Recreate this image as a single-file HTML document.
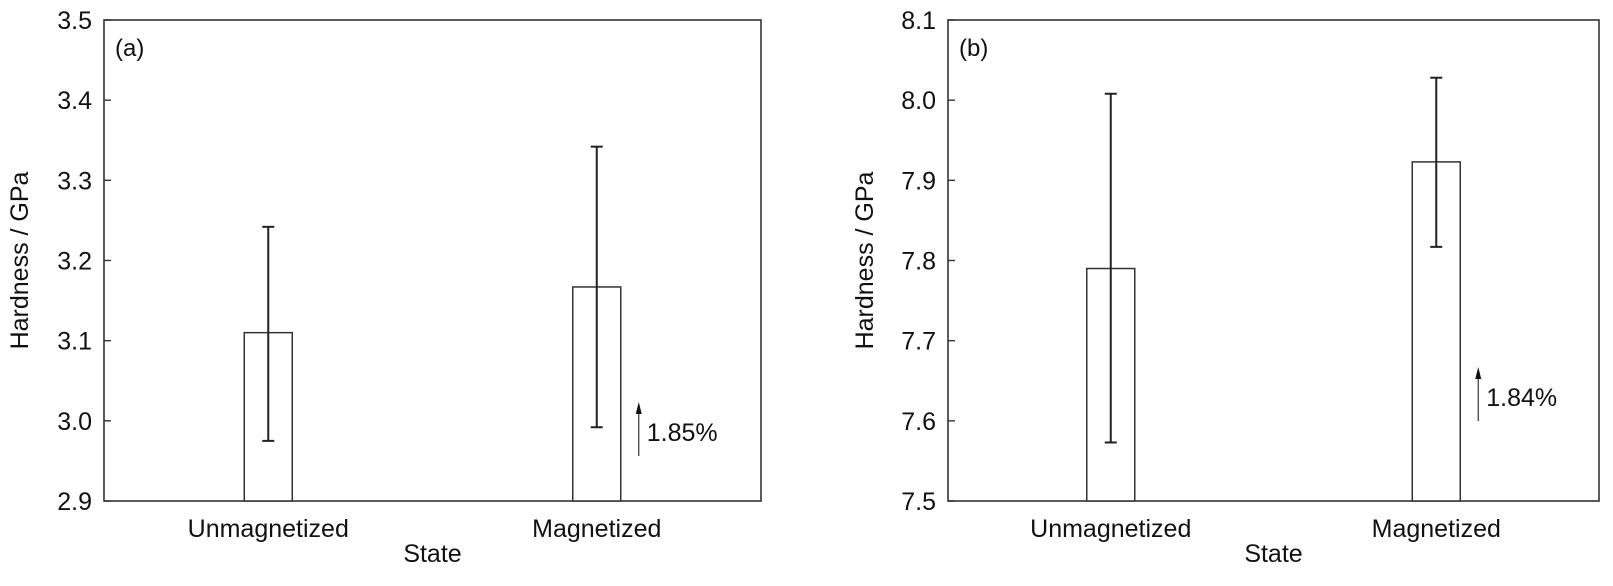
<!DOCTYPE html>
<html><head><meta charset="utf-8"><style>
html,body{margin:0;padding:0;background:#fff;}
svg{display:block;font-family:"Liberation Sans",Arial,sans-serif;}
</style></head><body>
<svg id="chart" width="1613" height="586" viewBox="0 0 1613 586" xmlns="http://www.w3.org/2000/svg"></svg>
<script>
const categories = ["Unmagnetized", "Magnetized"];
const valuesA = [3.110, 3.167];
const errLowA = [2.975, 2.992];
const errHighA = [3.242, 3.342];
const ticksA = [2.9, 3.0, 3.1, 3.2, 3.3, 3.4, 3.5];
const valuesB = [7.790, 7.923];
const errLowB = [7.573, 7.817];
const errHighB = [8.008, 8.028];
const ticksB = [7.5, 7.6, 7.7, 7.8, 7.9, 8.0, 8.1];
const increaseA = "1.85%";
const increaseB = "1.84%";

const NS = "http://www.w3.org/2000/svg";
const svg = document.getElementById("chart");
function mk(tag, attrs, parent, text) {
  const e = document.createElementNS(NS, tag);
  for (const k in attrs) e.setAttribute(k, attrs[k]);
  if (text !== undefined) e.textContent = text;
  parent.appendChild(e);
  return e;
}

function panel(cfg) {
  const g = mk("g", {}, svg);
  
  
  const L = cfg.left, R = cfg.right, T = 20, B = 501;
  const ymin = cfg.ticks[0], ymax = cfg.ticks[cfg.ticks.length - 1];
  const y = v => B - (v - ymin) / (ymax - ymin) * (B - T);
  const x = i => L + (R - L) * (0.25 + 0.5 * i);
  const stroke = "#333";
  const frame = mk("rect", {x: L, y: T, width: R - L, height: B - T, fill: "none", stroke: stroke, "stroke-width": 1.6}, g);
  
  
  cfg.ticks.forEach(t => {
    const tk = mk("line", {x1: L, x2: L + 7, y1: y(t), y2: y(t), stroke: stroke, "stroke-width": 1.4}, g);
    
    
    const lb = mk("text", {x: L - 12, y: y(t) + 9, "text-anchor": "end", "font-size": 25, fill: "#111"}, g, t.toFixed(1));
    
    
  });
  categories.forEach((c, i) => {
    const cx = x(i), bw = 48;
    const bar = mk("rect", {x: cx - bw / 2, y: y(cfg.values[i]), width: bw, height: B - y(cfg.values[i]), fill: "#fff", stroke: stroke, "stroke-width": 1.5}, g);
    
    
    const eb = mk("g", {stroke: "#222", "stroke-width": 2}, g);
    
    
    mk("line", {x1: cx, x2: cx, y1: y(cfg.lo[i]), y2: y(cfg.hi[i])}, eb);
    mk("line", {x1: cx - 6, x2: cx + 6, y1: y(cfg.lo[i]), y2: y(cfg.lo[i])}, eb);
    mk("line", {x1: cx - 6, x2: cx + 6, y1: y(cfg.hi[i]), y2: y(cfg.hi[i])}, eb);
    const xl = mk("text", {x: cx, y: 537, "text-anchor": "middle", "font-size": 25, fill: "#111"}, g, c);
    
    
  });
  // increase annotation
  const ax = x(1) + 42;
  const ar = mk("g", {}, g);
  
  
  mk("line", {x1: ax, x2: ax, y1: cfg.arrowTop + 10, y2: cfg.arrowTop + 54, stroke: "#333", "stroke-width": 1.2}, ar);
  mk("polygon", {points: `${ax - 3},${cfg.arrowTop + 12} ${ax + 3},${cfg.arrowTop + 12} ${ax},${cfg.arrowTop}`, fill: "#111"}, ar);
  const pt = mk("text", {x: ax + 8, y: cfg.arrowTop + 39, "font-size": 25, fill: "#111"}, g, cfg.pct);
  
  
  const lab = mk("text", {x: L + 11, y: 56, "font-size": 24, fill: "#111"}, g, cfg.label);
  
  
  const xt = mk("text", {x: (L + R) / 2, y: 562, "text-anchor": "middle", "font-size": 25, fill: "#111"}, g, "State");
  
  
  const yt = mk("text", {x: 0, y: 0, "text-anchor": "middle", "font-size": 25, fill: "#111", transform: `translate(${cfg.ytX},${(T + B) / 2}) rotate(-90)`}, g, "Hardness / GPa");
  
  
}

panel({name: "panel-a", left: 104, right: 761, ticks: ticksA, values: valuesA, lo: errLowA, hi: errHighA, pct: increaseA, label: "(a)", arrowTop: 402, ytX: 28});
panel({name: "panel-b", left: 948, right: 1599, ticks: ticksB, values: valuesB, lo: errLowB, hi: errHighB, pct: increaseB, label: "(b)", arrowTop: 367, ytX: 873});
</script>
</body></html>
